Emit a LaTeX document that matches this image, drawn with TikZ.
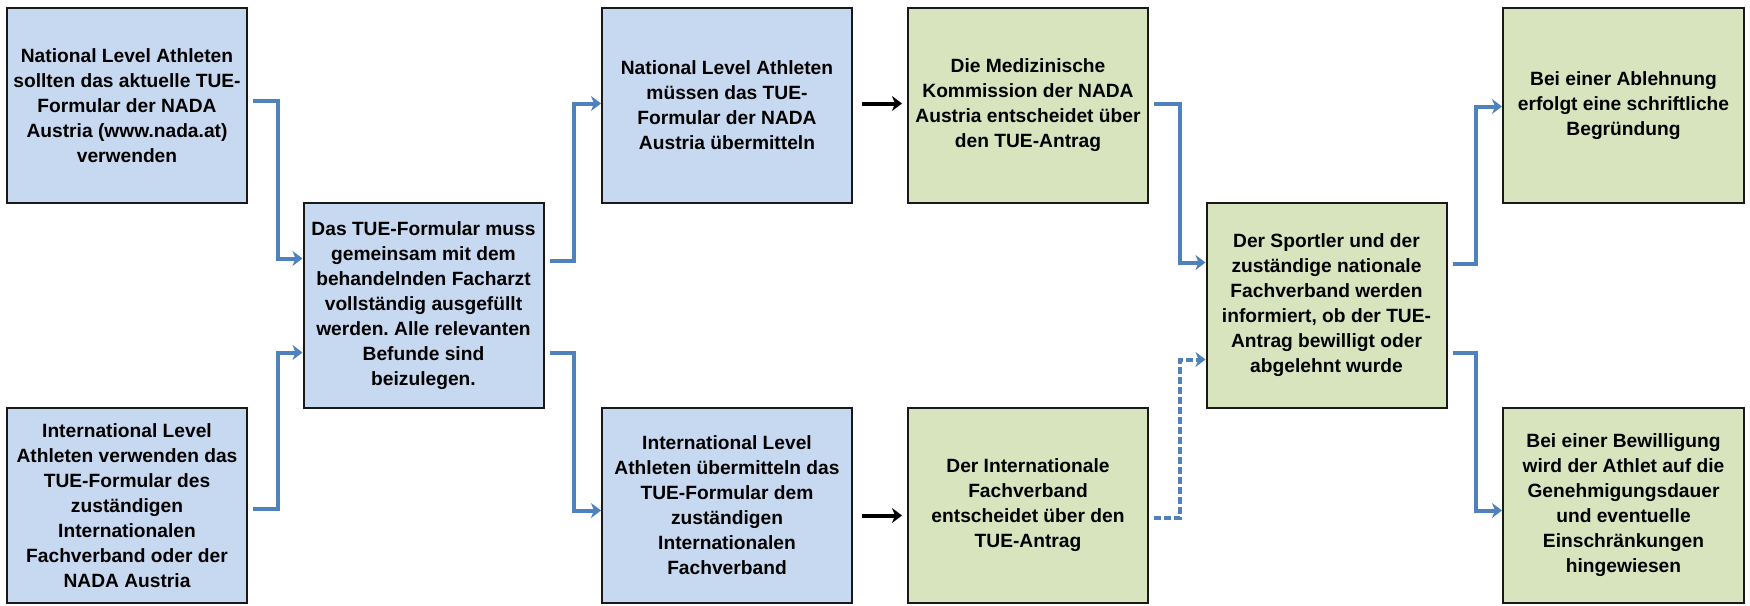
\documentclass[tikz,border=0pt]{standalone}
\usepackage{fontspec}
\setmainfont{Liberation Sans}
\usetikzlibrary{arrows.meta}

\definecolor{boxblue}{RGB}{198,217,240}
\definecolor{boxgreen}{RGB}{215,228,189}
\definecolor{flowblue}{RGB}{79,129,189}

\begin{document}
\begin{tikzpicture}[x=1pt, y=-1pt,
  box/.style={draw=black!90, line width=2pt, minimum width=240pt, minimum height=195pt,
    inner sep=0pt, align=center, font=\fontsize{19.2}{25}\selectfont\bfseries\frenchspacing},
  bluebox/.style={box, fill=boxblue},
  greenbox/.style={box, fill=boxgreen},
  flow/.style={draw=flowblue, line width=4pt, shorten <=5pt,
    -{Stealth[length=10pt, width=15pt, inset=3pt]}},
  push/.style={draw=black, line width=4pt, shorten <=9pt, shorten >=5pt,
    -{Stealth[length=10pt, width=15pt, inset=3pt]}}]
 \useasboundingbox (0,0) rectangle (1750,605);

 \node[bluebox] (natl) at (127,105.5) {National Level Athleten\\ sollten das aktuelle TUE-\\ Formular der NADA\\ Austria (www.nada.at)\\ verwenden};
 \node[bluebox] (intl) at (127,505.5) {International Level\\ Athleten verwenden das\\ TUE-Formular des\\ zuständigen\\ Internationalen\\ Fachverband oder der\\ NADA Austria};

 \node[bluebox, minimum height=205pt] (form) at (423.5,305.5) {Das TUE-Formular muss\\ gemeinsam mit dem\\ behandelnden Facharzt\\ vollständig ausgefüllt\\ werden. Alle relevanten\\ Befunde sind\\ beizulegen.};

 \node[bluebox, minimum width=250pt] (natsend) at (727,105.5) {National Level Athleten\\ müssen das TUE-\\ Formular der NADA\\ Austria übermitteln};
 \node[bluebox, minimum width=250pt] (intsend) at (727,505.5) {International Level\\ Athleten übermitteln das\\ TUE-Formular dem\\ zuständigen\\ Internationalen\\ Fachverband};

 \node[greenbox] (medko) at (1028,105.5) {Die Medizinische\\ Kommission der NADA\\ Austria entscheidet über\\ den TUE-Antrag};
 \node[greenbox] (ifv) at (1028,505.5) {Der Internationale\\ Fachverband\\ entscheidet über den\\ TUE-Antrag};

 \node[greenbox, minimum height=205pt] (info) at (1326.5,305.5) {Der Sportler und der\\ zuständige nationale\\ Fachverband werden\\ informiert, ob der TUE-\\ Antrag bewilligt oder\\ abgelehnt wurde};

 \node[greenbox, minimum width=241pt] (reject) at (1623.5,105.5) {Bei einer Ablehnung\\ erfolgt eine schriftliche\\ Begründung};
 \node[greenbox, minimum width=241pt] (approve) at (1623.5,505.5) {Bei einer Bewilligung\\ wird der Athlet auf die\\ Genehmigungsdauer\\ und eventuelle\\ Einschränkungen\\ hingewiesen};

 % into the form
 \draw [flow] ([yshift=5pt]natl.east) -- ++(30,0) |- ([yshift=47pt]form.west);
 \draw [flow] ([yshift=-3pt]intl.east) -- ++(30,0) |- ([yshift=-47pt]form.west);

 % form to national / international
 \draw [flow] ([yshift=45pt]form.east) -- ++(29,0) |- ([yshift=2pt]natsend.west);
 \draw [flow] ([yshift=-47pt]form.east) -- ++(29,0) |- ([yshift=-5pt]intsend.west);

 \draw [push] ([yshift=2pt]natsend.east) -- ([yshift=2pt]medko.west);
 \draw [push] ([yshift=-10pt]intsend.east) -- ([yshift=-10pt]ifv.west);

 % decisions
 \draw [flow] ([yshift=2pt]medko.east) -- ++(31,0) |- ([yshift=43pt]info.west);
 \draw [flow, dash pattern=on 7pt off 3pt] ([yshift=-12pt]ifv.east) -- ++(31,0) |- ([yshift=-54pt]info.west);

 \draw [flow] ([yshift=42pt]info.east) -- ++(28,0) |- ([yshift=-1pt]reject.west);
 \draw [flow] ([yshift=-47pt]info.east) -- ++(28,0) |- ([yshift=-5pt]approve.west);
\end{tikzpicture}
\end{document}
